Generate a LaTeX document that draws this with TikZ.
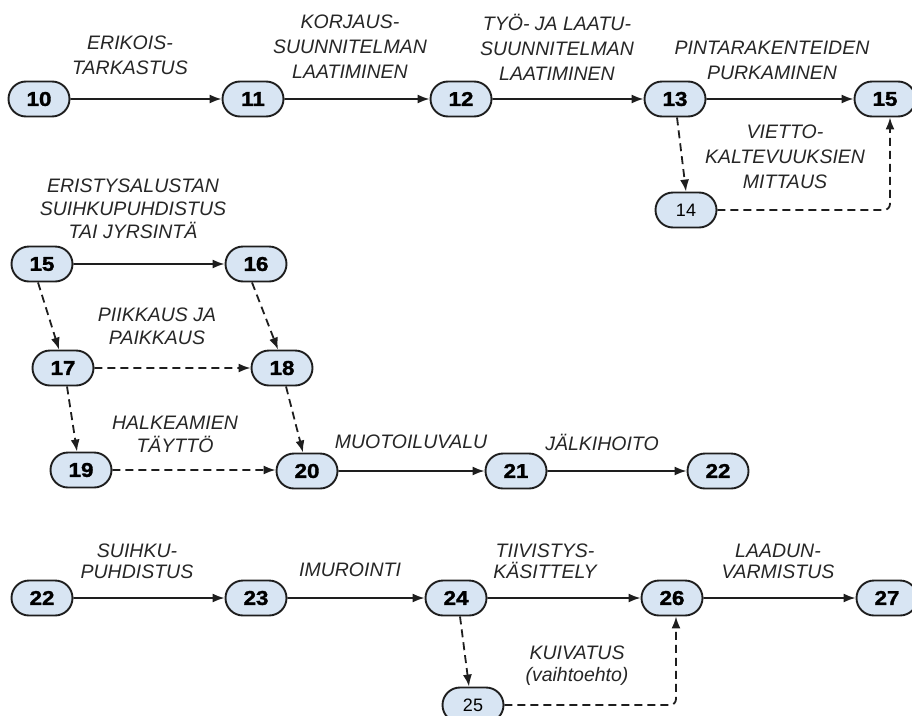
\documentclass[tikz,border=0pt]{standalone}
\usepackage{fontspec}
\setmainfont{Liberation Sans}
\newfontfamily\numfont{Liberation Sans Bold}[FakeStretch=1.12, FakeBold=1.6]
\usetikzlibrary{arrows.meta,shapes.misc}
\definecolor{evfill}{HTML}{D8E5F3}
\definecolor{evline}{HTML}{1E1E1E}
\definecolor{txt}{HTML}{262626}
\tikzset{
  ev/.style={rounded rectangle, draw=evline, line width=1.9pt, fill=evfill,
    minimum width=61pt, minimum height=35pt, inner sep=0pt,
    font=\numfont\fontsize{20}{20}\selectfont},
  evs/.style={ev, font=\fontsize{18}{18}\selectfont},
  lbl/.style={align=center, text=txt, inner sep=0pt,
    font=\itshape\fontsize{19.5}{25}\selectfont},
  act/.style={-{Latex[length=12pt,width=9pt]}, line width=1.8pt, draw=evline},
  dum/.style={act, dash pattern=on 8pt off 5pt},
}
\begin{document}
\begin{tikzpicture}[x=1pt,y=-1pt]
\useasboundingbox (0,0) rectangle (912,715);
% row 1
\node[ev] (n10) at (39,99) {10};
\node[ev] (n11) at (253,99) {11};
\node[ev] (n12) at (461,99) {12};
\node[ev] (n13) at (675,99) {13};
\node[ev] (n15a) at (885,99) {15};
\node[evs] (n14) at (686,210) {14};
\node[lbl] (l1) at (130,55) {ERIKOIS-\\TARKASTUS};
\node[lbl] (l2) at (350,47) {KORJAUS-\\SUUNNITELMAN\\LAATIMINEN};
\node[lbl] (l3) at (557,47) {TYÖ- JA LAATU-\\SUUNNITELMAN\\LAATIMINEN};
\node[lbl] (l4) at (772,60) {PINTARAKENTEIDEN\\PURKAMINEN};
\node[lbl] (l5) at (785,157) {VIETTO-\\KALTEVUUKSIEN\\MITTAUS};
\draw[act] (n10) -- (n11);
\draw[act] (n11) -- (n12);
\draw[act] (n12) -- (n13);
\draw[act] (n13) -- (n15a);
\draw[dum] ([xshift=2pt]n13.south) -- (n14.north);
\coordinate (k14) at (890,210);
\draw[dum, rounded corners=6pt] (n14.east) -- (k14) -- (n15a.south -| k14);
% row 2
\node[ev] (n15) at (42,264) {15};
\node[ev] (n16) at (256,264) {16};
\node[ev] (n17) at (63,368) {17};
\node[ev] (n18) at (282,368) {18};
\node[ev] (n19) at (81,470) {19};
\node[ev] (n20) at (307,471) {20};
\node[ev] (n21) at (516,471) {21};
\node[ev] (n22a) at (718,471) {22};
\node[lbl, font=\itshape\fontsize{19.5}{23}\selectfont] (l6) at (133,209) {ERISTYSALUSTAN\\SUIHKUPUHDISTUS\\TAI JYRSINTÄ};
\node[lbl, font=\itshape\fontsize{19.5}{23}\selectfont] (l7) at (157,326) {PIIKKAUS JA\\PAIKKAUS};
\node[lbl, font=\itshape\fontsize{19.5}{23}\selectfont] (l8) at (175,434) {HALKEAMIEN\\TÄYTTÖ};
\node[lbl] (l9) at (411,442) {MUOTOILUVALU};
\node[lbl] (l10) at (602,442) {JÄLKIHOITO};
\draw[act] (n15) -- (n16);
\draw[dum] ([xshift=-4pt]n15.south) -- ([xshift=-4pt]n17.north);
\draw[dum] ([xshift=-4pt]n16.south) -- ([xshift=-4pt]n18.north);
\draw[dum] (n17) -- (n18);
\draw[dum] ([xshift=4pt]n17.south) -- ([xshift=-4pt]n19.north);
\draw[dum] ([xshift=4pt]n18.south) -- ([xshift=-4pt]n20.north);
\draw[dum] (n19) -- (n19 -| n20.west);
\draw[act] (n20) -- (n21);
\draw[act] (n21) -- (n22a);
% row 3
\node[ev] (n22) at (42,598) {22};
\node[ev] (n23) at (256,598) {23};
\node[ev] (n24) at (456,598) {24};
\node[ev] (n26) at (672,598) {26};
\node[ev] (n27) at (887,598) {27};
\node[evs] (n25) at (473,705) {25};
\node[lbl, font=\itshape\fontsize{19.5}{21}\selectfont] (l11) at (137,561) {SUIHKU-\\PUHDISTUS};
\node[lbl] (l12) at (350,570) {IMUROINTI};
\node[lbl, font=\itshape\fontsize{19.5}{21}\selectfont] (l13) at (545,561) {TIIVISTYS-\\KÄSITTELY};
\node[lbl, font=\itshape\fontsize{19.5}{21}\selectfont] (l14) at (778,561) {LAADUN-\\VARMISTUS};
\node[lbl, font=\itshape\fontsize{19.5}{22}\selectfont] (l15) at (577,666) {KUIVATUS\\(vaihtoehto)};
\draw[act] (n22) -- (n23);
\draw[act] (n23) -- (n24);
\draw[act] (n24) -- (n26);
\draw[act] (n26) -- (n27);
\draw[dum] ([xshift=4pt]n24.south) -- ([xshift=-4pt]n25.north);
\coordinate (k25) at (676,705);
\draw[dum, rounded corners=6pt] (n25.east) -- (k25) -- (n26.south -| k25);
\end{tikzpicture}
\end{document}
